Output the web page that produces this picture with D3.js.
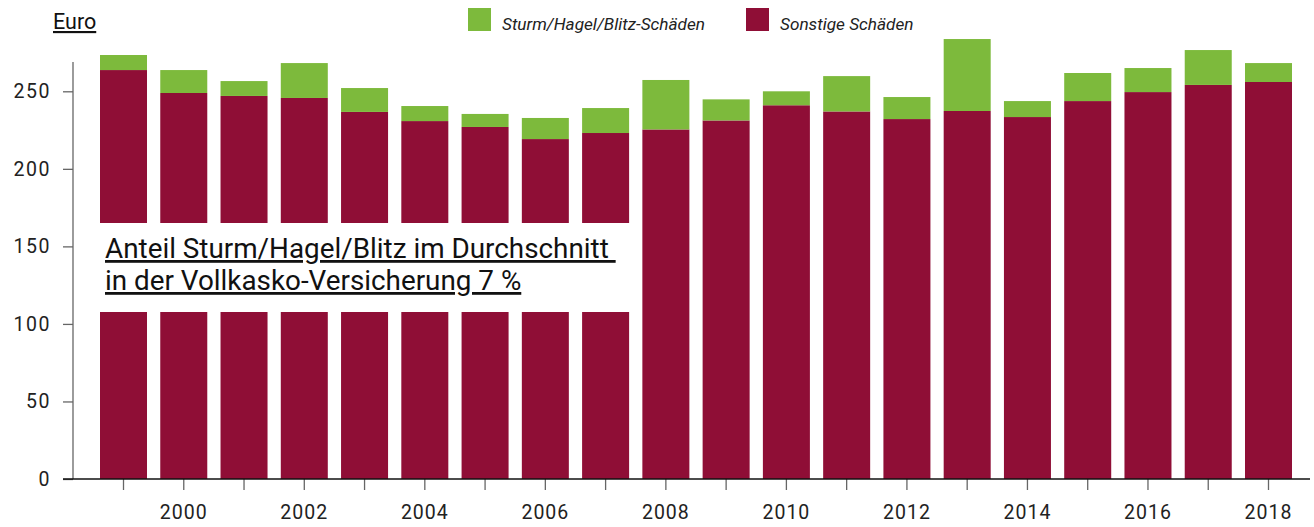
<!DOCTYPE html>
<html><head><meta charset="utf-8">
<script src="https://cdn.jsdelivr.net/npm/d3@7"></script>
<style>
html,body{margin:0;padding:0;background:#fff;}
svg{display:block;font-family:Roboto,"Open Sans",sans-serif;}
</style></head>
<body><svg id="c" width="1314" height="527"></svg>
<script>
const years = [1999,2000,2001,2002,2003,2004,2005,2006,2007,2008,2009,2010,2011,2012,2013,2014,2015,2016,2017,2018];
const sonstige = [263.7,248.9,247.0,245.7,236.7,230.8,227.0,219.2,223.1,225.4,231.2,241.0,237.0,232.1,237.3,233.4,243.7,249.5,254.1,256.0];
const sturm = [9.7,14.8,9.6,22.5,15.4,9.7,8.4,13.6,16.1,31.9,13.6,9.0,22.8,14.2,46.4,10.3,18.1,15.5,22.5,12.2];
const yTicks = [0,50,100,150,200,250];
const xTickLabels = [2000,2002,2004,2006,2008,2010,2012,2014,2016,2018];
const seriesNames = ["Sturm/Hagel/Blitz-Schäden","Sonstige Schäden"];
const yLabel = "Euro";
const noteLines = ["Anteil Sturm/Hagel/Blitz im Durchschnitt ","in der Vollkasko-Versicherung 7 %"];

const green = "#7dba3c", red = "#8f0e36";
const svg = d3.select("#c");

const x = d3.scaleBand().domain(years).range([100,1292]).paddingInner(0.22).paddingOuter(0);
const y = d3.scaleLinear().domain([0,250]).range([479,91.3]);

// bars
const g = svg.append("g");
g.selectAll("rect.s").data(years).join("rect")
  .attr("x", d=>x(d)).attr("width", x.bandwidth())
  .attr("y", (d,i)=>y(sonstige[i])).attr("height", (d,i)=>y(0)-y(sonstige[i]))
  .attr("fill", red);
g.selectAll("rect.g").data(years).join("rect")
  .attr("x", d=>x(d)).attr("width", x.bandwidth())
  .attr("y", (d,i)=>y(sonstige[i]+sturm[i])).attr("height", (d,i)=>y(sonstige[i])-y(sonstige[i]+sturm[i]))
  .attr("fill", green);

// annotation box
svg.append("rect").attr("x",93).attr("y",223).attr("width",542).attr("height",89).attr("fill","#fff");
const note = svg.append("g");
noteLines.forEach((t,i)=>{
  note.append("text").attr("x",105).attr("y",258 + i*32)
    .attr("font-size",23).attr("fill","#111")
    .style("white-space","pre").style("text-decoration","underline")
    .text(t);
});
(function(){
  const t0 = note.select("text").node();
  const w = t0.getComputedTextLength();
  const fs = 23 * 511 / w;
  note.selectAll("text").attr("font-size", fs);
})();

// y axis
const yAxis = svg.append("g").attr("transform","translate(73,0)")
  .call(d3.axisLeft(y).tickValues(yTicks).tickSize(10).tickPadding(12));
yAxis.select(".domain").remove();
yAxis.selectAll(".tick line").attr("stroke","#666").attr("stroke-width",1.3);
yAxis.selectAll(".tick text").attr("font-size",19.5).attr("fill","#222").attr("letter-spacing","1.5px")
  .attr("font-family","Roboto,sans-serif").attr("font-weight",400);
svg.append("line").attr("x1",73).attr("x2",73).attr("y1",62).attr("y2",479).attr("stroke","#666").attr("stroke-width",1.3);

// x axis
const xAxis = svg.append("g").attr("transform","translate(0,479)")
  .call(d3.axisBottom(x).tickSize(11).tickPadding(15).tickFormat(d=> xTickLabels.includes(d) ? d : ""));
xAxis.select(".domain").remove();
xAxis.selectAll(".tick line").attr("stroke","#666").attr("stroke-width",1.3);
xAxis.selectAll(".tick text").attr("font-size",19.5).attr("fill","#222").attr("letter-spacing","1px")
  .attr("font-family","Roboto,sans-serif").attr("font-weight",400);
svg.append("line").attr("x1",63).attr("x2",1310).attr("y1",479).attr("y2",479).attr("stroke","#111").attr("stroke-width",1.5);

// y label
svg.append("text").attr("x",53).attr("y",29).attr("font-size",21.5).attr("fill","#111")
  .style("text-decoration","underline").text(yLabel);

// legend
const legend = svg.append("g");
const legItems = [{name:seriesNames[0],color:green,x:468},{name:seriesNames[1],color:red,x:746}];
legItems.forEach(it=>{
  legend.append("rect").attr("x",it.x).attr("y",8).attr("width",23).attr("height",23).attr("fill",it.color);
  legend.append("text").attr("x",it.x+34).attr("y",30).attr("font-size",17.2).attr("font-style","italic")
    .attr("font-weight",400).attr("fill","#222").text(it.name);
});
</script></body></html>
